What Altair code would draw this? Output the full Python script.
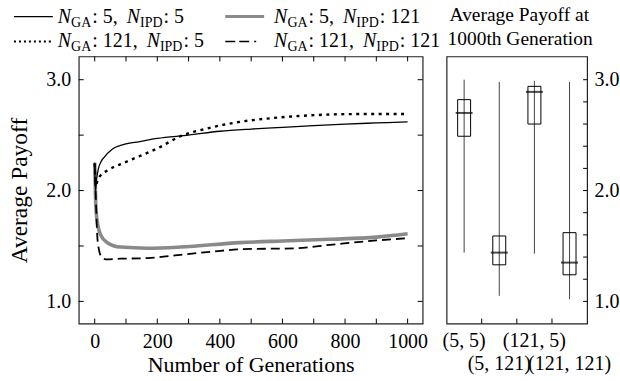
import altair as alt
import pandas as pd

FONT = "Liberation Serif"

# ---------------- data ----------------
gen_5_5 = [0, 2, 6, 12, 20, 30, 55, 100, 140, 200, 300, 400, 500, 600, 700, 800, 900, 1000]
pay_5_5 = [2.24, 2.0, 2.1, 2.2, 2.26, 2.3, 2.37, 2.42, 2.44, 2.47, 2.50, 2.535, 2.555, 2.57, 2.585, 2.60, 2.61, 2.62]

gen_121_5 = [0, 4, 10, 20, 40, 93, 168, 200, 274, 359, 443, 592, 700, 837, 1000]
pay_121_5 = [2.24, 2.05, 2.1, 2.14, 2.18, 2.25, 2.34, 2.38, 2.49, 2.56, 2.61, 2.66, 2.68, 2.69, 2.69]

gen_5_121 = [0, 3, 8, 19, 40, 83, 168, 274, 465, 600, 752, 900, 1000]
pay_5_121 = [2.25, 1.9, 1.72, 1.6, 1.53, 1.49, 1.48, 1.49, 1.53, 1.545, 1.56, 1.58, 1.61]

gen_121_121 = [0, 4, 8, 14, 20, 35, 83, 168, 274, 380, 465, 645, 752, 900, 1000]
pay_121_121 = [2.25, 1.9, 1.6, 1.46, 1.41, 1.38, 1.385, 1.39, 1.42, 1.45, 1.47, 1.48, 1.51, 1.55, 1.57]

box_cats = ["(5, 5)", "(5, 121)", "(121, 5)", "(121, 121)"]
box_row = [1, 2, 1, 2]
box_min = [1.44, 1.05, 1.43, 1.02]
box_q1 = [2.49, 1.33, 2.60, 1.24]
box_med = [2.70, 1.44, 2.89, 1.35]
box_q3 = [2.82, 1.59, 2.94, 1.62]
box_max = [3.00, 2.98, 2.99, 2.98]

x_label_values = [0, 200, 400, 600, 800, 1000]
x_tick_values = list(range(0, 1001, 100))
y_label_values = [1.0, 2.0, 3.0]
y_tick_left = [1.0, 1.5, 2.0, 2.5, 3.0]
y_tick_right = [1.0, 1.2, 1.4, 1.6, 1.8, 2.0, 2.2, 2.4, 2.6, 2.8, 3.0]

# ---------------- layout ----------------
W1, W2, H = 345, 141, 268
X_DOM = [-51, 1048]
Y_DOM = [0.8, 3.21]
TICK = 5
OX, OY = 78, 55          # position of the left plot's top-left corner in the page

xs = alt.Scale(domain=X_DOM, nice=False, zero=False)
ys = alt.Scale(domain=Y_DOM, nice=False, zero=False)

ax_x = alt.Axis(values=x_label_values, format="d", ticks=False, domain=False, grid=False,
                labelFont=FONT, labelFontSize=20, labelColor="black", labelPadding=8,
                title="Number of Generations", titleFont=FONT, titleFontSize=22,
                titleFontWeight="normal", titleColor="black", titlePadding=3)
ax_y = alt.Axis(values=y_label_values, format=".1f", ticks=False, domain=False, grid=False,
                labelFont=FONT, labelFontSize=20, labelColor="black", labelPadding=8,
                title="Average Payoff", titleFont=FONT, titleFontSize=23.5,
                titleFontWeight="normal", titleColor="black", titlePadding=14)


def series_layer(gens, pays, color, width, dash=None):
    df = pd.DataFrame({"g": gens, "p": pays})
    kw = dict(color=color, strokeWidth=width, clip=True, interpolate="monotone")
    if dash:
        kw["strokeDash"] = dash
    return alt.Chart(df).mark_line(**kw).encode(
        x=alt.X("g:Q", scale=xs, axis=ax_x),
        y=alt.Y("p:Q", scale=ys, axis=ax_y),
    )


lines = [
    series_layer(gen_5_121, pay_5_121, "#8a8a8a", 3.6),
    series_layer(gen_121_121, pay_121_121, "black", 1.8, [9, 5]),
    series_layer(gen_121_5, pay_121_5, "black", 2.4, [3, 4.5]),
    series_layer(gen_5_5, pay_5_5, "black", 1.3),
]

TK = dict(color="black", strokeWidth=1, opacity=1)
xt = pd.DataFrame({"t": x_tick_values})
yt = pd.DataFrame({"t": y_tick_left})
tick_layers = [
    alt.Chart(xt).mark_rule(**TK).encode(
        x=alt.X("t:Q", scale=xs, axis=ax_x), y=alt.value(H), y2=alt.value(H - TICK)),
    alt.Chart(xt).mark_rule(**TK).encode(
        x=alt.X("t:Q", scale=xs, axis=ax_x), y=alt.value(0), y2=alt.value(TICK)),
    alt.Chart(yt).mark_rule(**TK).encode(
        y=alt.Y("t:Q", scale=ys, axis=ax_y), x=alt.value(0), x2=alt.value(TICK)),
    alt.Chart(yt).mark_rule(**TK).encode(
        y=alt.Y("t:Q", scale=ys, axis=ax_y), x=alt.value(W1 - TICK), x2=alt.value(W1)),
]

# invisible anchor at the page's top-left corner so that "pad" autosize keeps the origin fixed
anchor = alt.Chart(pd.DataFrame({"k": [0]})).mark_rule(opacity=0, strokeWidth=0.1).encode(
    x=alt.value(-OX), x2=alt.value(-OX + 2), y=alt.value(-OY))

# ---------------- legend (pixel layout) ----------------
LF, SF = 20, 14
CW = {"0": .5, "1": .5, "2": .5, "5": .5, ":": .278, ",": .25, " ": .25,
      "G": .722, "A": .722, "I": .333, "P": .556, "D": .722, "N": .667}


def tw(s, size):
    return sum(CW.get(c, .5) for c in s) * size


legend_entries = [
    # (line x0, line x1, text x, baseline y, GA value, IPD value, style)
    (13, 52, 57, 21, "5", "5", "solid"),
    (225, 264, 274, 21, "5", "121", "gray"),
    (13, 50, 57, 46, "121", "5", "dot"),
    (225, 263, 274, 46, "121", "121", "dash"),
]
line_styles = {
    "solid": dict(color="black", strokeWidth=1.3),
    "gray": dict(color="#8a8a8a", strokeWidth=3.0),
    "dot": dict(color="black", strokeWidth=2.0, strokeDash=[2, 3]),
    "dash": dict(color="black", strokeWidth=1.6, strokeDash=[10, 4, 10, 5, 2, 8]),
}

legend_layers = []
for (lx0, lx1, tx, by, ga, ipd, sty) in legend_entries:
    legend_layers.append(
        alt.Chart(pd.DataFrame({"k": [sty]})).mark_rule(**line_styles[sty]).encode(
            x=alt.value(lx0 - OX), x2=alt.value(lx1 - OX),
            y=alt.value(by - 6 - OY)))
    pieces = [
        ("N", "it", 0), ("GA", "sub", 0), (": " + ga + ",", "rm", 0),
        ("N", "it", 9), ("IPD", "sub", 0), (": " + ipd, "rm", 0),
    ]
    x = tx
    for txt, kind, gap in pieces:
        x += gap
        size = SF if kind == "sub" else LF
        yb = by + 4 if kind == "sub" else by
        legend_layers.append(
            alt.Chart(pd.DataFrame({"s": [txt]})).mark_text(
                font=FONT, fontSize=size, align="left", baseline="alphabetic",
                fontStyle="italic" if kind == "it" else "normal", color="black",
            ).encode(text="s:N", x=alt.value(x - OX), y=alt.value(yb - OY)))
        x += tw(txt, size) + (1 if kind == "sub" else 0)

left = alt.layer(*lines, *tick_layers, anchor, *legend_layers).properties(width=W1, height=H)

# ---------------- right panel: box plots ----------------
bx = pd.DataFrame({"cat": box_cats, "row": box_row, "lo": box_min, "q1": box_q1,
                   "med": box_med, "q3": box_q3, "hi": box_max})
cs = alt.Scale(domain=box_cats, paddingInner=0, paddingOuter=0)
ax_yr = alt.Axis(orient="right", values=y_label_values, format=".1f", ticks=False,
                 domain=False, grid=False, labelFont=FONT, labelFontSize=20,
                 labelColor="black", labelPadding=7, title=None)
X2 = alt.X("cat:N", scale=cs, sort=box_cats, axis=None)

whisk = alt.Chart(bx).mark_rule(color="#444444", strokeWidth=1).encode(
    x=X2, y=alt.Y("lo:Q", scale=ys, axis=ax_yr), y2="hi:Q")
boxes = alt.Chart(bx).mark_bar(size=13, fillOpacity=0, stroke="black", strokeWidth=1).encode(
    x=X2, y=alt.Y("q1:Q", scale=ys, axis=ax_yr), y2="q3:Q")
meds = alt.Chart(bx).mark_tick(color="black", size=17, thickness=2).encode(
    x=X2, y=alt.Y("med:Q", scale=ys, axis=ax_yr))

ytr = pd.DataFrame({"t": y_tick_right})
rticks = alt.Chart(ytr).mark_rule(**TK).encode(
    y=alt.Y("t:Q", scale=ys, axis=ax_yr), x=alt.value(W2 - 4), x2=alt.value(W2))
bticks = alt.Chart(pd.DataFrame({"cat": box_cats[1:]})).mark_rule(**TK).encode(
    x=alt.X("cat:N", scale=cs, sort=box_cats, axis=None, bandPosition=0),
    y=alt.value(H), y2=alt.value(H - TICK))

cat_row1 = alt.Chart(bx).transform_filter("datum.row == 1").mark_text(
    font=FONT, fontSize=20, baseline="top", color="black").encode(
    x=X2, y=alt.value(H + 8), text="cat:N")
cat_row2 = alt.Chart(bx).transform_filter("datum.row == 2").mark_text(
    font=FONT, fontSize=20, baseline="top", color="black").encode(
    x=X2, y=alt.value(H + 31), text="cat:N")

title_lines = ["Average Payoff at", "1000th Generation"]
OX2 = OX + W1 + 24
title_layers = [
    alt.Chart(pd.DataFrame({"s": [title_lines[0]]})).mark_text(
        font=FONT, fontSize=19.5, align="left", baseline="alphabetic", color="black").encode(
        text="s:N", x=alt.value(450 - OX2), y=alt.value(19 - OY)),
    alt.Chart(pd.DataFrame({"s": [title_lines[1]]})).mark_text(
        font=FONT, fontSize=19.5, align="left", baseline="alphabetic", color="black").encode(
        text="s:N", x=alt.value(448 - OX2), y=alt.value(44 - OY)),
]

right = alt.layer(whisk, boxes, meds, rticks, bticks, cat_row1, cat_row2,
                  *title_layers).properties(width=W2, height=H)

chart = alt.hconcat(left, right, spacing=24, bounds="flush").properties(
    padding={"left": 0, "top": 0, "right": 0, "bottom": 0},
).configure(background="white").configure_view(stroke="#222222", strokeWidth=1.2)

chart.save("out.html", embed_options={"renderer": "svg", "actions": False})
